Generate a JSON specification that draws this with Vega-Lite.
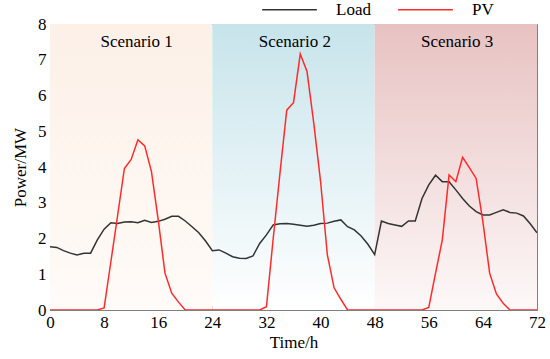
{
  "$schema": "https://vega.github.io/schema/vega-lite/v6.json",
  "width": 487,
  "height": 286,
  "autosize": "none",
  "padding": {"left": 50, "top": 24, "right": 13, "bottom": 49},
  "background": "white",
  "config": {
    "view": {"stroke": "#808080", "strokeWidth": 1},
    "font": "Liberation Serif",
    "axis": {
      "labelFont": "Liberation Serif",
      "titleFont": "Liberation Serif",
      "labelFontSize": 17,
      "titleFontSize": 17,
      "titleFontWeight": "normal",
      "labelColor": "#000000",
      "titleColor": "#000000",
      "domainColor": "#808080",
      "tickColor": "#808080",
      "labelOverlap": false,
      "grid": false
    },
    "axisY": {"tickCount": 20},
    "axisX": {"tickCount": 20},
    "legend": {"labelFont": "Liberation Serif"},
    "text": {"font": "Liberation Serif"}
  },
  "datasets": {
    "bg": [
      {"start": 0, "end": 24, "lo": 0, "hi": 8, "scenario": "Scenario 1", "mid": 12.8},
      {"start": 24, "end": 48, "lo": 0, "hi": 8, "scenario": "Scenario 2", "mid": 36.2},
      {"start": 48, "end": 72, "lo": 0, "hi": 8, "scenario": "Scenario 3", "mid": 60.2}
    ],
    "series": [
      {"h": 0, "Load": 1.77, "PV": 0},
      {"h": 1, "Load": 1.75, "PV": 0},
      {"h": 2, "Load": 1.66, "PV": 0},
      {"h": 3, "Load": 1.59, "PV": 0},
      {"h": 4, "Load": 1.54, "PV": 0},
      {"h": 5, "Load": 1.59, "PV": 0},
      {"h": 6, "Load": 1.59, "PV": 0},
      {"h": 7, "Load": 1.96, "PV": 0},
      {"h": 8, "Load": 2.26, "PV": 0.06},
      {"h": 9, "Load": 2.44, "PV": 1.35},
      {"h": 10, "Load": 2.42, "PV": 2.65},
      {"h": 11, "Load": 2.46, "PV": 3.96},
      {"h": 12, "Load": 2.47, "PV": 4.21},
      {"h": 13, "Load": 2.44, "PV": 4.76},
      {"h": 14, "Load": 2.51, "PV": 4.59},
      {"h": 15, "Load": 2.45, "PV": 3.87},
      {"h": 16, "Load": 2.48, "PV": 2.52},
      {"h": 17, "Load": 2.54, "PV": 1.03},
      {"h": 18, "Load": 2.62, "PV": 0.47},
      {"h": 19, "Load": 2.62, "PV": 0.22},
      {"h": 20, "Load": 2.49, "PV": 0},
      {"h": 21, "Load": 2.33, "PV": 0},
      {"h": 22, "Load": 2.16, "PV": 0},
      {"h": 23, "Load": 1.93, "PV": 0},
      {"h": 24, "Load": 1.66, "PV": 0},
      {"h": 25, "Load": 1.68, "PV": 0},
      {"h": 26, "Load": 1.59, "PV": 0},
      {"h": 27, "Load": 1.49, "PV": 0},
      {"h": 28, "Load": 1.45, "PV": 0},
      {"h": 29, "Load": 1.44, "PV": 0},
      {"h": 30, "Load": 1.51, "PV": 0},
      {"h": 31, "Load": 1.86, "PV": 0},
      {"h": 32, "Load": 2.10, "PV": 0.09},
      {"h": 33, "Load": 2.38, "PV": 2.0},
      {"h": 34, "Load": 2.41, "PV": 3.83},
      {"h": 35, "Load": 2.42, "PV": 5.59},
      {"h": 36, "Load": 2.40, "PV": 5.80},
      {"h": 37, "Load": 2.37, "PV": 7.16},
      {"h": 38, "Load": 2.34, "PV": 6.67},
      {"h": 39, "Load": 2.37, "PV": 5.22},
      {"h": 40, "Load": 2.42, "PV": 3.6},
      {"h": 41, "Load": 2.43, "PV": 1.55},
      {"h": 42, "Load": 2.48, "PV": 0.62},
      {"h": 43, "Load": 2.52, "PV": 0.3},
      {"h": 44, "Load": 2.33, "PV": 0},
      {"h": 45, "Load": 2.24, "PV": 0},
      {"h": 46, "Load": 2.07, "PV": 0},
      {"h": 47, "Load": 1.84, "PV": 0},
      {"h": 48, "Load": 1.55, "PV": 0},
      {"h": 49, "Load": 2.49, "PV": 0},
      {"h": 50, "Load": 2.42, "PV": 0},
      {"h": 51, "Load": 2.38, "PV": 0},
      {"h": 52, "Load": 2.34, "PV": 0},
      {"h": 53, "Load": 2.49, "PV": 0},
      {"h": 54, "Load": 2.49, "PV": 0},
      {"h": 55, "Load": 3.12, "PV": 0},
      {"h": 56, "Load": 3.50, "PV": 0.07},
      {"h": 57, "Load": 3.77, "PV": 1.03},
      {"h": 58, "Load": 3.59, "PV": 1.96},
      {"h": 59, "Load": 3.59, "PV": 3.78},
      {"h": 60, "Load": 3.36, "PV": 3.59},
      {"h": 61, "Load": 3.12, "PV": 4.27},
      {"h": 62, "Load": 2.91, "PV": 3.98},
      {"h": 63, "Load": 2.75, "PV": 3.68},
      {"h": 64, "Load": 2.66, "PV": 2.47},
      {"h": 65, "Load": 2.66, "PV": 1.03},
      {"h": 66, "Load": 2.73, "PV": 0.45},
      {"h": 67, "Load": 2.80, "PV": 0.19},
      {"h": 68, "Load": 2.73, "PV": 0},
      {"h": 69, "Load": 2.71, "PV": 0},
      {"h": 70, "Load": 2.63, "PV": 0},
      {"h": 71, "Load": 2.41, "PV": 0},
      {"h": 72, "Load": 2.16, "PV": 0}
    ]
  },
  "layer": [
    {
      "data": {"name": "bg"},
      "transform": [{"filter": "datum.scenario === 'Scenario 1'"}],
      "mark": {"type": "rect", "color": {"gradient": "linear", "x1": 0, "y1": 0, "x2": 0, "y2": 1, "stops": [{"offset": 0, "color": "#fcf0e7"}, {"offset": 1, "color": "#fffbf8"}]}},
      "encoding": {
        "x": {"field": "start", "type": "quantitative", "scale": {"domain": [0, 72], "nice": false, "zero": false},
          "axis": {"values": [0, 8, 16, 24, 32, 40, 48, 56, 64, 72], "tickCount": 20, "format": "d", "title": "Time/h", "tickSize": -5, "labelPadding": 9, "titlePadding": 4, "labelFlush": false}},
        "x2": {"field": "end"},
        "y": {"field": "lo", "type": "quantitative", "scale": {"domain": [0, 8], "nice": false},
          "axis": {"values": [0, 1, 2, 3, 4, 5, 6, 7, 8], "tickCount": 20, "format": "d", "title": "Power/MW", "tickSize": -5, "labelPadding": 9, "titlePadding": 8, "labelFlush": false}},
        "y2": {"field": "hi"}
      }
    },
    {
      "data": {"name": "bg"},
      "transform": [{"filter": "datum.scenario === 'Scenario 2'"}],
      "mark": {"type": "rect", "color": {"gradient": "linear", "x1": 0, "y1": 0, "x2": 0, "y2": 1, "stops": [{"offset": 0, "color": "#c7e4eb"}, {"offset": 1, "color": "#ffffff"}]}},
      "encoding": {
        "x": {"field": "start", "type": "quantitative"},
        "x2": {"field": "end"},
        "y": {"field": "lo", "type": "quantitative"},
        "y2": {"field": "hi"}
      }
    },
    {
      "data": {"name": "bg"},
      "transform": [{"filter": "datum.scenario === 'Scenario 3'"}],
      "mark": {"type": "rect", "color": {"gradient": "linear", "x1": 0, "y1": 0, "x2": 0, "y2": 1, "stops": [{"offset": 0, "color": "#e8c2c2"}, {"offset": 1, "color": "#fdf8f8"}]}},
      "encoding": {
        "x": {"field": "start", "type": "quantitative"},
        "x2": {"field": "end"},
        "y": {"field": "lo", "type": "quantitative"},
        "y2": {"field": "hi"}
      }
    },
    {
      "data": {"name": "bg"},
      "mark": {"type": "text", "fontSize": 17, "font": "Liberation Serif", "color": "#000000", "baseline": "middle", "align": "center"},
      "encoding": {
        "x": {"field": "mid", "type": "quantitative"},
        "y": {"datum": 7.5, "type": "quantitative"},
        "text": {"field": "scenario"}
      }
    },
    {
      "data": {"name": "series"},
      "transform": [{"fold": ["Load", "PV"], "as": ["series", "value"]}],
      "mark": {"type": "line", "strokeWidth": 1.5, "clip": true},
      "encoding": {
        "x": {"field": "h", "type": "quantitative"},
        "y": {"field": "value", "type": "quantitative"},
        "color": {
          "field": "series", "type": "nominal",
          "scale": {"domain": ["Load", "PV"], "range": ["#333333", "#ff2b2b"]},
          "legend": {
            "title": null,
            "orient": "none",
            "direction": "horizontal",
            "legendX": 211,
            "legendY": -43,
            "symbolType": "stroke",
            "symbolSize": 3000,
            "symbolStrokeWidth": 1.5,
            "labelFont": "Liberation Serif",
            "labelFontSize": 17,
            "labelColor": "#000000",
            "labelOffset": 18,
            "columnPadding": 24
          }
        }
      }
    }
  ]
}
